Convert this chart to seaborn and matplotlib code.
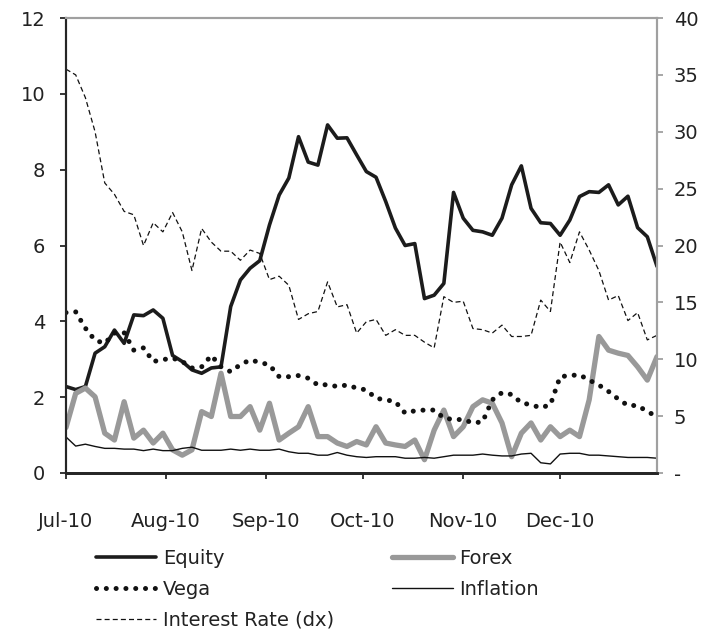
import matplotlib
matplotlib.use("Agg")
import matplotlib.pyplot as plt
import matplotlib.dates as mdates
from matplotlib.ticker import FuncFormatter, MultipleLocator
import seaborn as sns
import pandas as pd

# every 3 calendar days, Jul-10 .. Dec-10
dates = pd.date_range("2010-07-01", "2010-12-31", freq="3D")

equity = [2.28, 2.2, 2.28, 3.16, 3.33, 3.77, 3.42, 4.17, 4.15, 4.3,
          4.08, 3.1, 2.94, 2.72, 2.63, 2.77, 2.8, 4.39, 5.09, 5.4,
          5.6, 6.54, 7.33, 7.78, 8.87, 8.2, 8.12, 9.18, 8.83, 8.84,
          8.39, 7.95, 7.8, 7.16, 6.46, 6.0, 6.05, 4.6, 4.69, 5.0,
          7.4, 6.72, 6.4, 6.36, 6.27, 6.72, 7.6, 8.1, 6.98, 6.6,
          6.58, 6.27, 6.67, 7.29, 7.42, 7.4, 7.6, 7.07, 7.3, 6.47,
          6.23, 5.45]
forex = [1.2, 2.1, 2.24, 2.01, 1.05, 0.87, 1.88, 0.92, 1.13, 0.79,
         1.05, 0.61, 0.47, 0.61, 1.62, 1.49, 2.63, 1.49, 1.49, 1.75,
         1.13, 1.84, 0.87, 1.05, 1.22, 1.75, 0.96, 0.96, 0.79, 0.7,
         0.83, 0.74, 1.22, 0.79, 0.74, 0.7, 0.87, 0.35, 1.13, 1.66,
         0.96, 1.22, 1.75, 1.93, 1.84, 1.32, 0.43, 1.05, 1.32, 0.87,
         1.22, 0.96, 1.13, 0.96, 1.93, 3.6, 3.24, 3.16, 3.1, 2.8,
         2.45, 3.07]
vega = [4.23, 4.25, 3.82, 3.5, 3.42, 3.69, 3.7, 3.24, 3.3, 2.94,
        2.99, 3.03, 2.94, 2.77, 2.8, 3.1, 2.8, 2.67, 2.86, 2.98,
        2.92, 2.85, 2.54, 2.54, 2.57, 2.5, 2.32, 2.33, 2.28, 2.32,
        2.24, 2.19, 1.97, 1.93, 1.88, 1.58, 1.64, 1.66, 1.66, 1.45,
        1.41, 1.41, 1.32, 1.35, 1.93, 2.12, 2.07, 1.85, 1.8, 1.72,
        1.8, 2.54, 2.57, 2.59, 2.45, 2.32, 2.15, 1.95, 1.78, 1.78,
        1.62, 1.49]
inflation = [0.95, 0.71, 0.76, 0.7, 0.65, 0.65, 0.63, 0.63, 0.59, 0.63,
             0.59, 0.59, 0.65, 0.68, 0.6, 0.6, 0.6, 0.63, 0.6, 0.63,
             0.6, 0.6, 0.63, 0.56, 0.52, 0.52, 0.47, 0.47, 0.54, 0.47,
             0.43, 0.41, 0.43, 0.43, 0.43, 0.39, 0.39, 0.41, 0.39, 0.43,
             0.47, 0.47, 0.47, 0.5, 0.47, 0.45, 0.45, 0.5, 0.52, 0.27,
             0.24, 0.5, 0.52, 0.52, 0.47, 0.47, 0.45, 0.43, 0.41, 0.41,
             0.41, 0.39]
interest_rate = [35.5, 35.0, 33.0, 30.0, 25.5, 24.5, 23.0, 22.7, 20.0, 22.0,
                 21.2, 22.9, 21.2, 17.8, 21.5, 20.3, 19.5, 19.5, 18.7, 19.6,
                 19.3, 17.0, 17.3, 16.5, 13.5, 14.0, 14.2, 16.8, 14.6, 14.8,
                 12.3, 13.3, 13.5, 12.1, 12.6, 12.1, 12.1, 11.5, 11.0, 15.5,
                 15.0, 15.1, 12.7, 12.6, 12.3, 13.0, 12.0, 12.0, 12.1, 15.2,
                 14.2, 20.3, 18.5, 21.2, 19.6, 17.8, 15.2, 15.6, 13.4, 14.1,
                 11.7, 12.1]

sns.set_style("ticks")
plt.rcParams["font.family"] = ["DejaVu Sans"]
txt = "#222222"
dark = "#262626"
light = "#a0a0a0"
fs = 14

fig = plt.figure(figsize=(7.22, 6.34), dpi=100)
ax = fig.add_axes([66 / 722, 1 - 473 / 634, 591 / 722, 455 / 634])

sns.lineplot(x=dates, y=equity, ax=ax, color="#1c1c1c", lw=2.6, label="Equity")
sns.lineplot(x=dates, y=forex, ax=ax, color="#999999", lw=3.8, label="Forex")
sns.lineplot(x=dates, y=vega, ax=ax, color="#111111", lw=3.6,
             linestyle=(0, (0.01, 1.95)), dash_capstyle="round", label="Vega")
sns.lineplot(x=dates, y=inflation, ax=ax, color="#111111", lw=1.0, label="Inflation")

ax2 = ax.twinx()
sns.lineplot(x=dates, y=interest_rate, ax=ax2, color="#111111", lw=0.9,
             linestyle=(0, (4, 2.5)), label="Interest Rate (dx)")

ax.set_ylim(0, 12)
ax.yaxis.set_major_locator(MultipleLocator(2))
ax2.set_ylim(0, 40)
ax2.yaxis.set_major_locator(MultipleLocator(5))
ax2.yaxis.set_major_formatter(FuncFormatter(lambda v, p: "-" if v == 0 else f"{v:.0f}"))

ax.set_xlim(pd.Timestamp("2010-07-01"), pd.Timestamp("2010-12-31"))
ax.xaxis.set_major_locator(mdates.MonthLocator())
ax.xaxis.set_major_formatter(mdates.DateFormatter("%b-%y"))
ax.set_xlabel("")
ax.set_ylabel("")
ax2.set_ylabel("")

for a in (ax, ax2):
    for s in a.spines.values():
        s.set_linewidth(1.5)
    a.spines["left"].set_color(dark)
    a.spines["bottom"].set_color(dark)
    a.spines["bottom"].set_linewidth(2)
    a.spines["top"].set_color(light)
    a.spines["right"].set_color(light)
    a.grid(False)

ax.tick_params(axis="y", direction="out", length=4, width=1.3, color=dark,
               labelsize=fs, labelcolor=txt, pad=11)
ax.tick_params(axis="x", direction="out", length=4, width=1.3, color=dark,
               labelsize=fs, labelcolor=txt, pad=24)
ax2.tick_params(axis="y", direction="out", length=4, width=1.3, color=light,
                labelsize=fs, labelcolor=txt, pad=8)

# legend below, two columns
h1, l1 = ax.get_legend_handles_labels()
h2, l2 = ax2.get_legend_handles_labels()
ax.get_legend().remove()
ax2.get_legend().remove()
hd = dict(zip(l1 + l2, h1 + h2))
order = ["Equity", "Vega", "Interest Rate (dx)", "Forex", "Inflation"]
fig.legend([hd[k] for k in order], order, ncol=2, loc="upper left",
           bbox_to_anchor=(86 / 722, 1 - 539 / 634), frameon=False,
           fontsize=fs, handlelength=3.1, handletextpad=0.35,
           labelspacing=0.62, columnspacing=3.0, borderpad=0,
           labelcolor=txt)

fig.savefig("out.png", dpi=100)
